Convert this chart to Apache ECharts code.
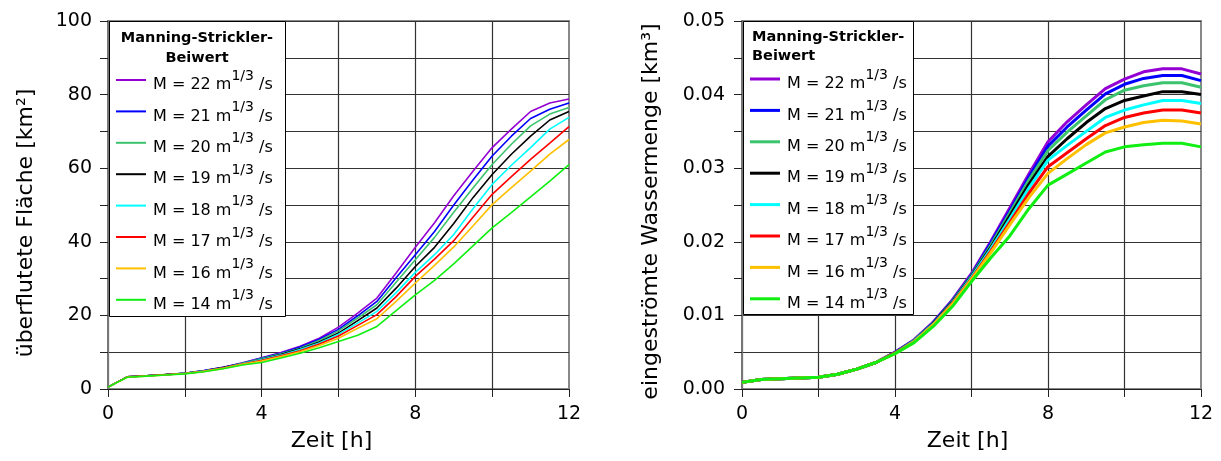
<!DOCTYPE html>
<html>
<head>
<meta charset="utf-8">
<script src="https://cdn.jsdelivr.net/npm/echarts@6/dist/echarts.min.js"></script>
<style>
html,body{margin:0;padding:0;background:#fff;}
#c{width:1221px;height:461px;}
</style>
</head>
<body>
<div id="c"></div>
<script>
// ---- data ----
const hours = [0,0.5,1,1.5,2,2.5,3,3.5,4,4.5,5,5.5,6,6.5,7,7.5,8,8.5,9,9.5,10,10.5,11,11.5,12];
const mValues = [22,21,20,19,18,17,16,14];
const colors = ['#9400D3','#0000FF','#3CC36E','#000000','#00FFFF','#FF0000','#FFC000','#11EE11'];
const xTicks = [0,4,8,12];
const leftTicks = [0,20,40,60,80,100];
const rightTicks = [0,0.01,0.02,0.03,0.04,0.05];

// flooded area [km²]
const areaM22 = [0.5,3.3,3.6,3.9,4.3,5.0,5.9,7.1,8.5,9.9,11.6,13.8,16.8,20.6,24.7,31.5,38.5,45.2,52.5,59.2,65.6,70.6,75.4,77.7,78.8];
const areaM21 = [0.5,3.3,3.6,3.9,4.3,5.0,5.9,7.0,8.4,9.7,11.4,13.5,16.2,19.9,23.8,30.2,36.5,42.8,50.0,56.8,63.3,68.7,73.5,76.0,77.7];
const areaM20 = [0.5,3.3,3.6,3.9,4.3,4.9,5.8,7.0,8.3,9.6,11.1,13.2,15.8,19.3,22.9,29.0,35.1,41.2,48.0,54.6,61.0,66.5,71.5,74.7,76.5];
const areaM19 = [0.5,3.3,3.6,3.9,4.3,4.9,5.8,6.9,8.1,9.4,10.9,12.8,15.2,18.6,22.0,27.4,33.3,38.5,45.0,52.0,58.3,63.8,68.7,73.1,75.4];
const areaM18 = [0.5,3.3,3.6,3.9,4.2,4.9,5.7,6.9,8.0,9.2,10.7,12.5,14.9,17.9,21.1,26.2,31.7,36.5,42.0,49.0,55.6,60.8,65.6,70.6,73.8];
const areaM17 = [0.5,3.3,3.6,3.9,4.2,4.8,5.7,6.8,7.8,9.0,10.4,12.2,14.4,17.3,20.2,25.1,30.6,35.3,40.3,46.7,52.9,57.7,62.4,66.8,71.3];
const areaM16 = [0.5,3.2,3.5,3.8,4.2,4.8,5.6,6.7,7.6,8.8,10.1,11.8,13.8,16.5,19.1,23.8,28.8,33.6,38.6,44.3,50.1,54.7,59.2,63.8,67.8];
const areaM14 = [0.5,3.2,3.5,3.8,4.1,4.7,5.5,6.5,7.2,8.4,9.7,11.2,12.9,14.6,17.0,21.3,25.6,29.5,34.0,38.9,43.8,47.9,52.2,56.5,61.0];

// inflowed water volume [km³]
const volM22 = [0.0009,0.0013,0.0014,0.0015,0.0016,0.0020,0.0027,0.0036,0.0050,0.0067,0.0091,0.0121,0.0157,0.0200,0.0246,0.0292,0.0336,0.0363,0.0386,0.0408,0.0421,0.0431,0.0435,0.0435,0.0428];
const volM21 = [0.0009,0.0013,0.0014,0.0015,0.0016,0.0020,0.0027,0.0036,0.0050,0.0066,0.0090,0.0120,0.0155,0.0198,0.0242,0.0288,0.0330,0.0356,0.0379,0.0401,0.0414,0.0422,0.0426,0.0426,0.0419];
const volM20 = [0.0009,0.0013,0.0014,0.0015,0.0016,0.0020,0.0027,0.0036,0.0049,0.0066,0.0089,0.0119,0.0154,0.0195,0.0239,0.0284,0.0324,0.0349,0.0371,0.0393,0.0406,0.0412,0.0416,0.0416,0.0410];
const volM19 = [0.0009,0.0013,0.0014,0.0015,0.0016,0.0020,0.0027,0.0036,0.0049,0.0065,0.0089,0.0118,0.0153,0.0192,0.0235,0.0278,0.0316,0.0340,0.0362,0.0381,0.0392,0.0398,0.0404,0.0404,0.0400];
const volM18 = [0.0009,0.0013,0.0014,0.0015,0.0016,0.0020,0.0027,0.0036,0.0049,0.0065,0.0088,0.0117,0.0152,0.0190,0.0231,0.0273,0.0311,0.0331,0.0350,0.0369,0.0379,0.0386,0.0392,0.0392,0.0388];
const volM17 = [0.0009,0.0013,0.0014,0.0015,0.0016,0.0020,0.0027,0.0036,0.0049,0.0064,0.0087,0.0116,0.0150,0.0187,0.0226,0.0266,0.0302,0.0321,0.0340,0.0358,0.0369,0.0375,0.0379,0.0379,0.0375];
const volM16 = [0.0009,0.0013,0.0014,0.0015,0.0016,0.0020,0.0027,0.0036,0.0048,0.0064,0.0087,0.0115,0.0149,0.0185,0.0223,0.0260,0.0293,0.0313,0.0332,0.0348,0.0356,0.0362,0.0365,0.0364,0.0360];
const volM14 = [0.0009,0.0013,0.0014,0.0015,0.0016,0.0020,0.0027,0.0036,0.0048,0.0063,0.0085,0.0112,0.0146,0.0178,0.0208,0.0245,0.0277,0.0292,0.0307,0.0322,0.0329,0.0332,0.0334,0.0334,0.0329];

const areaSeries = [areaM22,areaM21,areaM20,areaM19,areaM18,areaM17,areaM16,areaM14];
const volSeries = [volM22,volM21,volM20,volM19,volM18,volM17,volM16,volM14];

// ---- chart ----
const FONT = 'DejaVu Sans';
const names = mValues.map(m => 'M = ' + m);
const chart = echarts.init(document.getElementById('c'), null, {renderer:'canvas'});

function xAxisCfg(gridIndex, padRight){
  return {
    type:'value', gridIndex, min:0, max:12, interval:2,
    name:'Zeit [h]', nameLocation:'middle', nameGap:41,
    nameTextStyle:{fontFamily:FONT, fontSize:22, color:'#000', padding:[0,padRight,0,0]},
    axisLine:{show:true, onZero:false, lineStyle:{color:'#222', width:1}},
    axisTick:{show:true, inside:false, length:8, lineStyle:{color:'#222', width:1}},
    axisLabel:{margin:16, fontFamily:FONT, fontSize:19, color:'#000',
      formatter:v => xTicks.indexOf(v) >= 0 ? String(v) : ''},
    splitLine:{show:true, showMaxLine:false, lineStyle:{color:'#333', width:1.2}}
  };
}

const leftY = {
  type:'value', gridIndex:0, min:0, max:100, interval:10,
  name:'überflutete Fläche [km²]', nameLocation:'middle', nameGap:71, nameRotate:90,
  nameTextStyle:{fontFamily:FONT, fontSize:22, color:'#000', padding:[0,36,0,0]},
  axisLine:{show:true, lineStyle:{color:'#777', width:2}},
  axisTick:{show:true, length:8, lineStyle:{color:'#222', width:1}},
  axisLabel:{margin:16, fontFamily:FONT, fontSize:19, color:'#000',
    formatter:v => leftTicks.indexOf(v) >= 0 ? String(v) : ''},
  splitLine:{show:true, lineStyle:{color:'#333', width:1.2}}
};
const rightY = {
  type:'value', gridIndex:1, min:0, max:0.05, interval:0.005,
  name:'eingeströmte Wassermenge [km³]', nameLocation:'middle', nameGap:80, nameRotate:90,
  nameTextStyle:{fontFamily:FONT, fontSize:22, color:'#000', padding:[0,13,0,0]},
  axisLine:{show:true, lineStyle:{color:'#777', width:2}},
  axisTick:{show:true, length:8, lineStyle:{color:'#222', width:1}},
  axisLabel:{margin:17, fontFamily:FONT, fontSize:19, color:'#000',
    formatter:v => rightTicks.some(t => Math.abs(t - v) < 1e-9) ? v.toFixed(2) : ''},
  splitLine:{show:true, lineStyle:{color:'#333', width:1.2}}
};

const series = [];
names.forEach((n,i) => {
  series.push({
    type:'line', name:n, xAxisIndex:0, yAxisIndex:0, symbol:'none', showSymbol:false, animation:false,
    lineStyle:{color:colors[i], width:1.6}, itemStyle:{color:colors[i]}, z:2,
    data:hours.map((t,j) => [t, areaSeries[i][j]])
  });
});
names.forEach((n,i) => {
  series.push({
    type:'line', name:n, xAxisIndex:1, yAxisIndex:1, symbol:'none', showSymbol:false, animation:false,
    lineStyle:{color:colors[i], width:3}, itemStyle:{color:colors[i]}, z:2,
    data:hours.map((t,j) => [t, volSeries[i][j]])
  });
});

const rich = {
  a:{fontFamily:FONT, fontSize:16, color:'#000', padding:[10,0,0,2]},
  s:{fontFamily:FONT, fontSize:14, color:'#000', padding:[0,0,8,0]},
  b:{fontFamily:FONT, fontSize:16, color:'#000', padding:[10,0,0,0]}
};
function legendCfg(left, top, lw, gap){
  return {
    data:names.map(n => ({name:n, icon:'rect'})), orient:'vertical', left, top, padding:0, itemGap:gap,
    itemWidth:30, itemHeight:lw, selectedMode:false, z:6,
    textStyle:{fontFamily:FONT, fontSize:16, color:'#000', rich},
    formatter:n => '{a|' + n + ' m}{s|1/3}{b| /s}'
  };
}

chart.setOption({
  animation:false,
  backgroundColor:'#fff',
  grid:[
    {left:108, top:21, width:461, height:368, show:true, borderColor:'#888', borderWidth:2, backgroundColor:'transparent', containLabel:false},
    {left:742, top:21, width:459, height:368, show:true, borderColor:'#888', borderWidth:2, backgroundColor:'transparent', containLabel:false}
  ],
  xAxis:[xAxisCfg(0, 14), xAxisCfg(1, 8)],
  yAxis:[leftY, rightY],
  legend:[legendCfg(116, 69, 2, 7.4), legendCfg(750, 68, 3, 7.4)],
  graphic:[
    {type:'rect', z:5, shape:{x:109.5, y:21.5, width:176, height:295}, style:{fill:'#fff', stroke:'#000', lineWidth:1}},
    {type:'text', z:7, x:197, y:28, style:{text:'Manning-Strickler-\nBeiwert', fontFamily:FONT, fontWeight:'bold', fontSize:14.5, lineHeight:20, fill:'#000', align:'center', verticalAlign:'top'}},
    {type:'rect', z:5, shape:{x:743.5, y:21.5, width:170, height:293}, style:{fill:'#fff', stroke:'#000', lineWidth:1}},
    {type:'text', z:7, x:752, y:28, style:{text:'Manning-Strickler-\nBeiwert', fontFamily:FONT, fontWeight:'bold', fontSize:14.5, lineHeight:19, fill:'#000', align:'left', verticalAlign:'top'}}
  ],
  series
});
</script>
</body>
</html>
